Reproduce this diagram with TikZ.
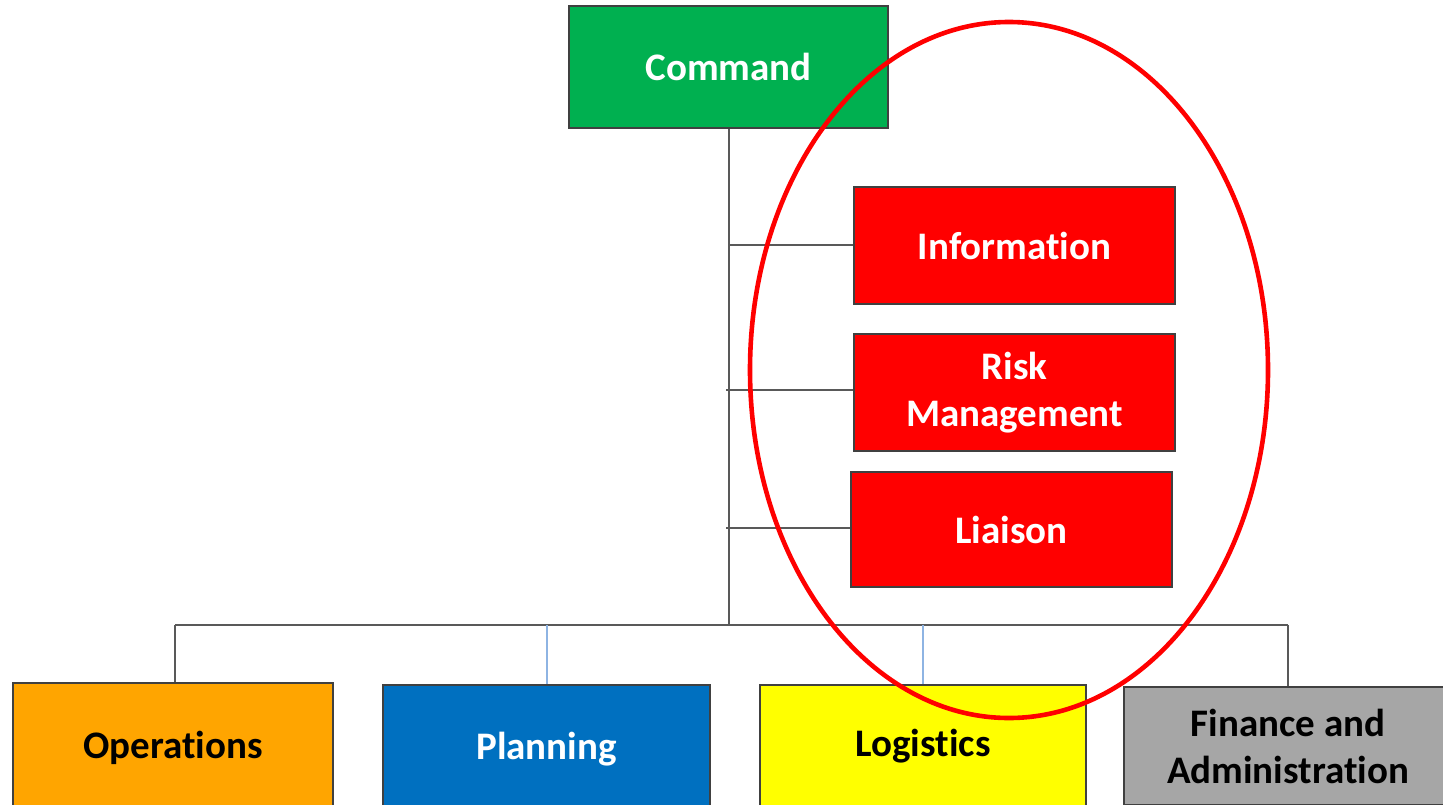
\documentclass[tikz,border=0pt]{standalone}
\usepackage{fontspec}
\setmainfont[Ligatures=NoCommon]{Carlito}
\begin{document}
\begin{tikzpicture}[x=1pt,y=-1pt,
  box/.style={draw=black!75, line width=1.3pt, inner sep=0pt, align=center,
    font=\fontsize{39}{47}\selectfont\bfseries},
  link/.style={draw=black!65, line width=1.4pt},
  droplink/.style={draw=dropblue, line width=1.4pt}]
\useasboundingbox (0,0) rectangle (1443,804);
\clip (0,0) rectangle (1443,804);
\definecolor{cmdgreen}{HTML}{00B050}
\definecolor{boxred}{HTML}{FF0000}
\definecolor{opsorange}{HTML}{FFA500}
\definecolor{planblue}{HTML}{0070C0}
\definecolor{logyellow}{HTML}{FFFF00}
\definecolor{fingrey}{HTML}{A6A6A6}
\definecolor{dropblue}{HTML}{8EB4E3}

% top of the hierarchy and the staff boxes
\node[box, fill=cmdgreen, text=white, minimum width=319pt, minimum height=122pt] (cmd) at (728.5,67) {Command};
\node[box, fill=boxred, text=white, minimum width=321pt, minimum height=117pt] (info) at (1014.5,245.5) {Information};
\node[box, fill=boxred, text=white, minimum width=321pt, minimum height=117pt] (risk) at (1014.5,392.5) {Risk\\Management};
\node[box, fill=boxred, text=white, minimum width=321pt, minimum height=115pt] (liaison) at (1011.5,529.5) {Liaison};

% general staff sections
\node[box, fill=opsorange, text=black, minimum width=320pt, minimum height=130pt] (ops) at (173,748) {Operations};
\node[box, fill=planblue, text=white, minimum width=327pt, minimum height=128pt] (plan) at (546.5,749) {Planning};
\node[box, fill=logyellow, text=black, minimum width=326pt, minimum height=122pt] (logi) at (923,746) {Logistics};
\node[box, fill=fingrey, text=black, minimum width=328pt, minimum height=118pt] (fin) at (1288,746) {Finance and\\Administration};

% trunk, branches and bus
\coordinate (bus) at (729,625);
\coordinate (busL) at (175,625);
\coordinate (busR) at (1288,625);
\coordinate (jInfo) at (729,245);
\coordinate (jRisk) at (726,390);
\coordinate (jLiaison) at (726,528);
\coordinate (dPlan) at (547,625);
\coordinate (dLogi) at (923,625);

\draw[link] (cmd.south -| bus) -- (bus);
\draw[link] (jInfo) -- (info.west |- jInfo);
\draw[link] (jRisk) -- (jRisk -| risk.west);
\draw[link] (jLiaison) -- (jLiaison -| liaison.west);
\draw[link] (busL) -- (busR);
\draw[link] (busL) -- (busL |- ops.north);
\draw[link] (busR) -- (busR |- fin.north);
\draw[droplink] (dPlan) -- (dPlan |- plan.north);
\draw[droplink] (dLogi) -- (dLogi |- logi.north);

% highlight ring round the staff boxes
\draw[draw=boxred, line width=4.6pt] (1009,370) ellipse [x radius=259, y radius=348];
\end{tikzpicture}
\end{document}
